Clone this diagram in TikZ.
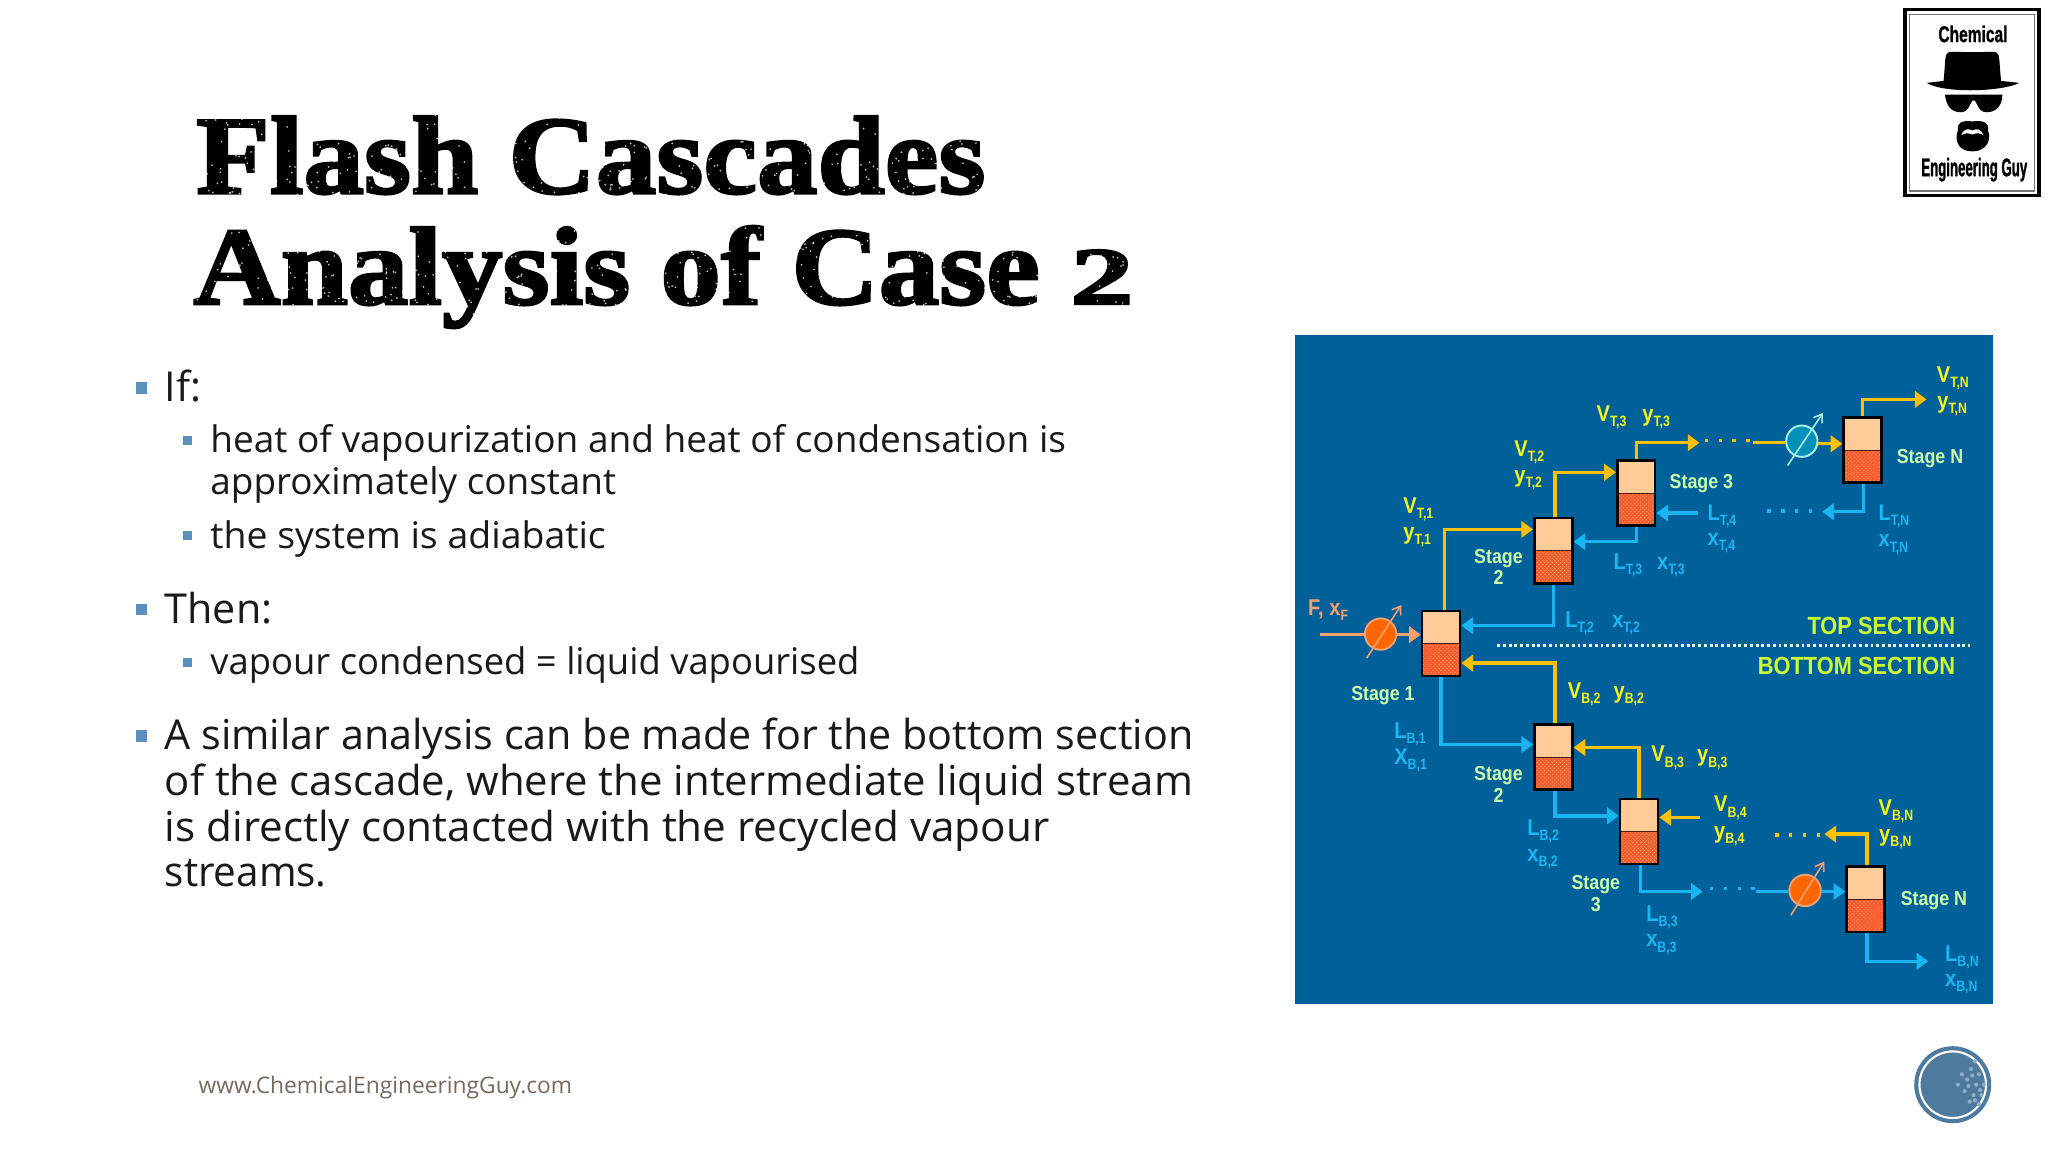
\documentclass[tikz,border=0pt]{standalone}
\usepackage{fontspec}
\usetikzlibrary{arrows.meta,patterns}
\setmainfont{Liberation Sans}
\newfontfamily\titlef[FakeStretch=1.09,BoldFeatures={FakeBold=2.4,FakeStretch=1.09}]{Liberation Serif}
\newfontfamily\bodyf{Open Sans}
\newfontfamily\labf[FakeStretch=0.88,BoldFeatures={FakeStretch=0.88}]{Liberation Sans}
\newfontfamily\labsub[FakeStretch=0.82,BoldFeatures={FakeStretch=0.82}]{Liberation Sans}
\newfontfamily\logof[FakeStretch=0.68,BoldFeatures={FakeStretch=0.68,FakeBold=1}]{Liberation Sans}
\newfontfamily\logog[FakeStretch=0.52,BoldFeatures={FakeStretch=0.52,FakeBold=1}]{Liberation Sans}
\definecolor{bg}{HTML}{00609A}
\definecolor{vap}{HTML}{FFC000}
\definecolor{liq}{HTML}{19B5F1}
\definecolor{ylab}{HTML}{F4F41E}
\definecolor{clab}{HTML}{1DB6EE}
\definecolor{glab}{HTML}{CCFFAA}
\definecolor{slab}{HTML}{CCFF33}
\definecolor{peach}{HTML}{FFCC99}
\definecolor{redor}{HTML}{F4592B}
\definecolor{salmon}{HTML}{F4A070}
\definecolor{bul}{HTML}{5B8FBC}
\definecolor{mint}{HTML}{AAF0E1}
\definecolor{teal}{HTML}{0090B8}
\definecolor{heatorange}{HTML}{FF6600}
\definecolor{bodytext}{HTML}{191919}
\definecolor{webtext}{HTML}{78695F}
\definecolor{badge}{HTML}{4E7A9E}
\definecolor{speck}{HTML}{8CAFCD}
\definecolor{divline}{HTML}{EBFAE1}
\newcommand{\lbl}[2]{{\labf\fontsize{17.5}{17.5}\selectfont\bfseries #1}{\labsub\fontsize{11.5}{11.5}\selectfont\bfseries\raisebox{-4pt}{#2}}}
\tikzset{
 stagebox/.style={draw=black,line width=2pt,minimum width=29pt,minimum height=50pt,inner sep=0,fill=peach,
   path picture={
     \fill[redor] (path picture bounding box.west) rectangle (path picture bounding box.south east);
     \fill[pattern=crosshatch dots,pattern color=peach!70!redor] (path picture bounding box.west) rectangle (path picture bounding box.south east);
     \draw[line width=.7pt,black!70!redor] (path picture bounding box.west) -- (path picture bounding box.east);}},
 vapline/.style={draw=vap,line width=2.6pt,-{Triangle[length=9pt,width=12.5pt]}},
 liqline/.style={draw=liq,line width=2.6pt,-{Triangle[length=9pt,width=12.5pt]}},
 feedline/.style={draw=salmon,line width=2.6pt,-{Triangle[length=9pt,width=12.5pt]}},
 plainvap/.style={draw=vap,line width=2.6pt},
 plainliq/.style={draw=liq,line width=2.6pt},
 plainfeed/.style={draw=salmon,line width=2.6pt},
 heatblue/.style={circle,draw=mint,line width=1.5pt,fill=teal,minimum size=24pt,inner sep=0},
 heatred/.style={circle,draw=salmon,line width=1.5pt,fill=heatorange,minimum size=24pt,inner sep=0},
 lab/.style={anchor=base west,inner sep=0,font=\labf,yshift=-2pt},
 yl/.style={lab,text=ylab},
 cl/.style={lab,text=clab},
 gl/.style={lab,text=glab,font=\labf\bfseries\fontsize{15.5}{16.3}\selectfont},
 gc/.style={gl,anchor=base,align=center},
 sect/.style={anchor=base east,inner sep=0,text=slab,font=\labf\bfseries\fontsize{19}{19}\selectfont,yshift=-1.5pt},
 dotsy/.style={draw=vap,line width=2.6pt,dash pattern=on 2.6pt off 8pt},
 dotsc/.style={draw=liq,line width=2.6pt,dash pattern=on 2.6pt off 8pt},
 ttl/.style={anchor=base west,inner sep=0,font=\titlef\bfseries\fontsize{85}{85}\selectfont,text=black},
 big/.style={anchor=base west,inner sep=0,font=\bodyf\fontsize{31.6}{31.6}\selectfont,text=bodytext,yshift=-1.3pt},
 small/.style={anchor=base west,inner sep=0,font=\bodyf\fontsize{28.1}{28.1}\selectfont,text=bodytext,yshift=-1pt},
 bula/.style={fill=bul,minimum size=9pt,inner sep=0,yshift=-1pt},
 bulb/.style={fill=bul,minimum size=7pt,inner sep=0,yshift=-1pt},
 logot/.style={inner sep=0,text=black},
}
\begin{document}
\begin{tikzpicture}[x=1pt,y=-1pt]
\useasboundingbox (0,0) rectangle (1569,882.6);
\fill[white] (0,0) rectangle (1569,882.6);
% title
\node[ttl] (t1) at (150,148) {Flash Cascades};
\node[ttl] (t2t) at (148,233) {Analysis of Case \scalebox{1.35}[0.95]{\fontsize{66}{66}\selectfont 2}};
\pgfmathsetseed{4242}
\foreach \i in {1,...,1500}{
  \pgfmathsetmacro{\px}{150+rnd*716}
  \pgfmathsetmacro{\py}{88+rnd*158}
  \fill[white,opacity=.75] (\px,\py) circle (.75pt);}
% bullets
\node[bula] (b1) at (108.5,296.5) {};
\node[big] (x1) at (126,306) {If:};
\node[bulb] (b2b) at (143.5,336.5) {};
\node[small] (x2) at (161,346) {\scalebox{1.009}[1]{heat of vapourization and heat of condensation is}};
\node[small] (x3) at (161,378) {\scalebox{1.006}[1]{approximately constant}};
\node[bulb] (b3b) at (143.5,409) {};
\node[small] (x4) at (161,419) {\scalebox{1.02}[1]{the system is adiabatic}};
\node[bula] (b4) at (108.5,466) {};
\node[big] (x5) at (126,476) {Then:};
\node[bulb] (b5) at (143.5,506.5) {};
\node[small] (x6) at (161,516) {\scalebox{0.992}[1]{vapour condensed = liquid vapourised}};
\node[bula] (b6) at (108.5,563) {};
\node[big] (x7) at (126,573) {A similar analysis can be made for the bottom section};
\node[big] (x8) at (126,608) {\scalebox{1.015}[1]{of the cascade, where the intermediate liquid stream}};
\node[big] (x9) at (126,643) {\scalebox{1.024}[1]{is directly contacted with the recycled vapour}};
\node[big] (x10) at (126,678) {\scalebox{0.98}[1]{streams.}};
\node[anchor=base west,inner sep=0,font=\bodyf\fontsize{17.45}{17.45}\selectfont,text=webtext] (www) at (152,838) {www.ChemicalEngineeringGuy.com};
% logo
\draw[black,line width=2.6pt] (1459.5,7.5) rectangle (1562,150);
\draw[black!55,line width=1.2pt] (1463,11) rectangle (1558.5,146.5);
\node[logot,font=\logof\bfseries\fontsize{17.5}{17.5}\selectfont] (lg1) at (1511.5,26) {Chemical};
\node[logot,font=\logog\bfseries\fontsize{19.5}{19.5}\selectfont] (lg2) at (1512.5,130) {Engineering Guy};
\fill[black] (1489,62) .. controls (1490,52) and (1490,45) .. (1491,42) .. controls (1492,38.5) and (1497,40) .. (1511,40) .. controls (1525,40) and (1530,38.5) .. (1531,42) .. controls (1532,45) and (1532,52) .. (1533,62) -- (1547,63.5) .. controls (1535,70) and (1490,72) .. (1476,63.5) -- cycle;
\fill[black] (1490,72.5) -- (1534,72.5) .. controls (1534,80) and (1530,86) .. (1522,86) .. controls (1516,86) and (1515,80) .. (1513,77) -- (1511,77) .. controls (1509,80) and (1508,86) .. (1502,86) .. controls (1494,86) and (1491,80) .. (1490,72.5) -- cycle;
\fill[black] (1511,93) .. controls (1520,92) and (1524,94) .. (1523,100) .. controls (1526,107) and (1522,116) .. (1511,116) .. controls (1500,116) and (1497,107) .. (1500,100) .. controls (1499,94) and (1503,92) .. (1511,93) -- cycle;
\fill[white] (1502.5,103.5) .. controls (1505,98) and (1508,98.5) .. (1511,100) .. controls (1514,98.5) and (1517,98) .. (1519.5,103.5) .. controls (1516,101.5) and (1514,102) .. (1511,103) .. controls (1508,102) and (1506,101.5) .. (1502.5,103.5) -- cycle;
% round badge
\fill[badge] (1496,831) circle (29.5pt);
\draw[white,line width=1.6pt] (1496,831) circle (25.5pt);
\foreach \a/\b in {1510/819,1516/823,1507/827,1514/831,1520/831,1505/836,1512/839,1518/839,1509/844,1516/846,1503/823,1513/813,1500/831,1511/824,1517/835,1508/832,1513/843}{
  \fill[speck] (\a,\b) circle (1.6pt);}
% diagram panel
\fill[bg] (992,257) rectangle (1527,769);
\node[stagebox] (s1) at (1104,493) {};
\node[stagebox] (t2) at (1190,421.8) {};
\node[stagebox] (t3) at (1253.5,377.8) {};
\node[stagebox] (tn) at (1427,344.8) {};
\node[stagebox] (b2) at (1190,580) {};
\node[stagebox] (b3) at (1255.7,637) {};
\node[stagebox] (bn) at (1429.2,689) {};
\node[heatblue] (h1) at (1380.4,338) {};
\node[heatred] (h2) at (1057.7,485.8) {};
\node[heatred] (h3) at (1382.9,682.2) {};
% top vapour
\draw[vapline] ([xshift=2.6pt]s1.north) |- ([yshift=16.2pt]t2.west);
\draw[vapline] ([xshift=1.3pt]t2.north) |- ([yshift=16pt]t3.west);
\coordinate (v3e) at (1302,339.2);
\draw[vapline] (t3.north) |- (v3e);
\coordinate (d1a) at (1306,337.6);\coordinate (d1b) at (1342,337.6);
\draw[dotsy] (d1a) -- (d1b);
\coordinate (l1a) at (1343,339.2);
\draw[plainvap] (l1a) -- (h1.west |- l1a);
\coordinate (l1b) at (1400,340);
\draw[vapline] (h1.east |- l1b) -- (tn.west |- l1b);
\coordinate (vne) at (1476,306);
\draw[vapline] (tn.north) |- (vne);
\coordinate (h1a) at (1369.5,356.6);\coordinate (h1b) at (1396.6,316.3);
\draw[line width=1.2pt,draw=mint,-{Straight Barb[length=6pt,width=8pt]}] (h1a) -- (h1b);
% top liquid
\coordinate (lne) at (1396,392);
\draw[liqline] ([xshift=.5pt]tn.south) |- (lne);
\coordinate (d2a) at (1354,391.6);\coordinate (d2b) at (1390,391.6);
\draw[dotsc] (d2a) -- (d2b);
\coordinate (l4a) at (1301,393);
\draw[liqline] (l4a) -- (t3.east |- l4a);
\coordinate (l3c) at (1230,415);
\draw[liqline] (t3.south) |- (t2.east |- l3c);
\coordinate (l2c) at (1190.6,479.3);
\draw[liqline] (t2.south) |- (s1.east |- l2c);
% feed
\coordinate (fa) at (1011,486.2);
\draw[plainfeed] (fa) -- (h2.west |- fa);
\draw[feedline] (h2.east |- fa) -- (s1.west |- fa);
\coordinate (h2a) at (1047,504.2);\coordinate (h2b) at (1073.5,463.5);
\draw[line width=1.2pt,draw=salmon,-{Straight Barb[length=6pt,width=8pt]}] (h2a) -- (h2b);
% bottom
\coordinate (vb2) at (1191.3,508);
\draw[vapline] ([xshift=1.3pt]b2.north) |- (s1.east |- vb2);
\coordinate (lb1) at (1104.5,570.4);
\draw[liqline] (s1.south) |- (b2.west |- lb1);
\coordinate (vb3) at (1255.3,572.7);
\draw[vapline] (b3.north) |- (b2.east |- vb3);
\coordinate (lb2) at (1191.3,625);
\draw[liqline] ([xshift=1.3pt]b2.south) |- (b3.west |- lb2);
\coordinate (vb4) at (1302.7,626.2);
\draw[vapline] (vb4) -- (b3.east |- vb4);
\coordinate (d3a) at (1360,639.8);\coordinate (d3b) at (1396,639.8);
\draw[dotsy] (d3a) -- (d3b);
\coordinate (vbne) at (1397.6,639);
\draw[vapline] ([xshift=1pt]bn.north) |- (vbne);
\coordinate (lb3e) at (1304.5,683);
\draw[liqline] ([xshift=1.3pt]b3.south) |- (lb3e);
\coordinate (d4a) at (1310,680.8);\coordinate (d4b) at (1346,680.8);
\draw[dotsc] (d4a) -- (d4b);
\coordinate (l5a) at (1345.6,683);
\draw[plainliq] (l5a) -- (h3.west |- l5a);
\draw[liqline] (h3.east |- l5a) -- (bn.west |- l5a);
\coordinate (h3a) at (1372,701.2);\coordinate (h3b) at (1397.6,660);
\draw[line width=1.2pt,draw=salmon,-{Straight Barb[length=6pt,width=8pt]}] (h3a) -- (h3b);
\coordinate (lbne) at (1477.4,736.4);
\draw[liqline] ([xshift=1pt]bn.south) |- (lbne);
% section divider
\coordinate (da) at (1147,494.8);\coordinate (db) at (1509,494.8);
\draw[draw=divline,line width=2.2pt,dash pattern=on 2.2pt off 2.2pt] (da) -- (db);
\node[sect] (sa) at (1498,484.5) {TOP SECTION};
\node[sect] (sb) at (1498,515) {BOTTOM SECTION};
% labels
\node[yl] (n1) at (1075,391.5) {\lbl{V}{T,1}};
\node[yl] (n2) at (1075,411) {\lbl{y}{T,1}};
\node[yl] (n3) at (1160,347.5) {\lbl{V}{T,2}};
\node[yl] (n4) at (1160,367.8) {\lbl{y}{T,2}};
\node[yl] (n5) at (1223,320.7) {\lbl{V}{T,3}};
\node[yl] (n6) at (1258,320.7) {\lbl{y}{T,3}};
\node[yl] (n7) at (1483.7,290.7) {\lbl{V}{T,N}};
\node[yl] (n8) at (1484,311) {\lbl{y}{T,N}};
\node[gl] (n9) at (1453,353.3) {Stage N};
\node[gl] (n10) at (1279,372.4) {Stage 3};
\node[gc] (n11) at (1148,446) {Stage\\2};
\node[cl] (n12) at (1308,396.6) {\lbl{L}{T,4}};
\node[cl] (n13) at (1308,416) {\lbl{x}{T,4}};
\node[cl] (n14) at (1439,396.6) {\lbl{L}{T,N}};
\node[cl] (n15) at (1439,417) {\lbl{x}{T,N}};
\node[cl] (n16) at (1236,434.5) {\lbl{L}{T,3}};
\node[cl] (n17) at (1269.3,434.5) {\lbl{x}{T,3}};
\node[cl] (n18) at (1199,478.6) {\lbl{L}{T,2}};
\node[cl] (n19) at (1235,478.6) {\lbl{x}{T,2}};
\node[lab,text=salmon] (n20) at (1002,469.7) {\lbl{F, x}{F}};
\node[gl] (n21) at (1035,534.5) {Stage 1};
\node[yl] (n22) at (1201,533.3) {\lbl{V}{B,2}};
\node[yl] (n23) at (1236,533.3) {\lbl{y}{B,2}};
\node[cl] (n24) at (1068,563.8) {\lbl{L}{B,1}};
\node[cl] (n25) at (1068,583.7) {\lbl{X}{B,1}};
\node[gc] (n26) at (1148,612.5) {Stage\\2};
\node[yl] (n27) at (1265,581.7) {\lbl{V}{B,3}};
\node[yl] (n28) at (1300,581.7) {\lbl{y}{B,3}};
\node[cl] (n29) at (1170,638) {\lbl{L}{B,2}};
\node[cl] (n30) at (1170,658) {\lbl{x}{B,2}};
\node[yl] (n31) at (1313,620) {\lbl{V}{B,4}};
\node[yl] (n32) at (1313,640) {\lbl{y}{B,4}};
\node[yl] (n33) at (1439,622.4) {\lbl{V}{B,N}};
\node[yl] (n34) at (1439.5,642.8) {\lbl{y}{B,N}};
\node[gc] (n35) at (1222.6,696) {Stage\\3};
\node[gl] (n36) at (1456,692) {Stage N};
\node[cl] (n37) at (1261,704) {\lbl{L}{B,3}};
\node[cl] (n38) at (1261,723.5) {\lbl{x}{B,3}};
\node[cl] (n39) at (1490,734.4) {\lbl{L}{B,N}};
\node[cl] (n40) at (1490,753.5) {\lbl{x}{B,N}};
\end{tikzpicture}
\end{document}
